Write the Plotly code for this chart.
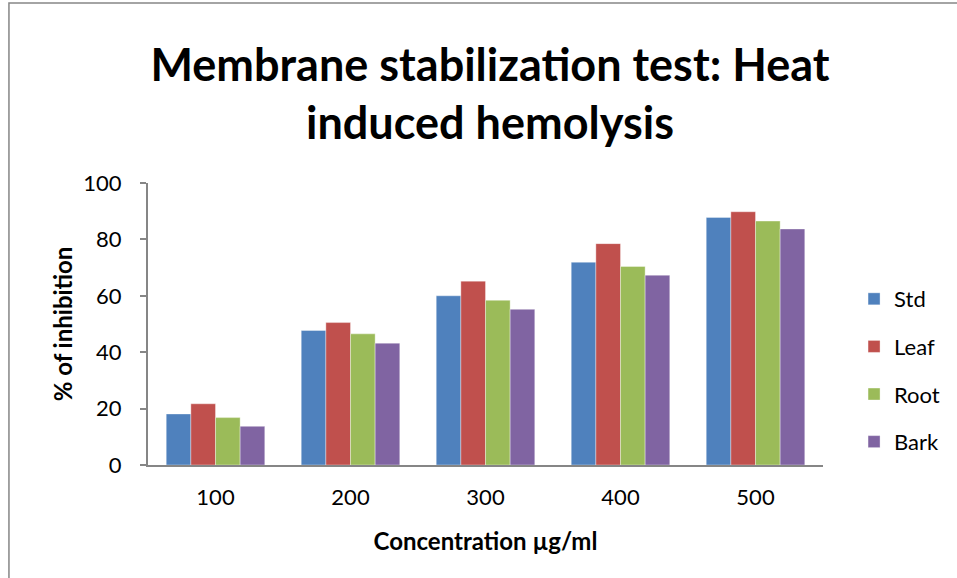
"""Grouped bar chart: membrane stabilization test."""

from plotly import graph_objects as go

concentrations = ["100", "200", "300", "400", "500"]
std = [18.1, 47.7, 60.0, 71.9, 87.8]
leaf = [21.7, 50.5, 65.2, 78.5, 89.8]
root = [16.8, 46.5, 58.4, 70.4, 86.5]
bark = [13.7, 43.2, 55.2, 67.3, 83.7]
y_ticks = [0, 20, 40, 60, 80, 100]

series = [
    ("Std", std, "#4F81BD"),
    ("Leaf", leaf, "#C0504D"),
    ("Root", root, "#9BBB59"),
    ("Bark", bark, "#8064A2"),
]

FONT = "Lato, 'Open Sans', sans-serif"

fig = go.Figure()
for name, values, color in series:
    fig.add_trace(
        go.Bar(
            x=concentrations,
            y=values,
            name=name,
            legendgroup=name,
            marker={"color": color, "line": {"width": 0.6, "color": "rgba(255,255,255,0.6)"}},
        )
    )

fig.update_layout(
    width=957,
    height=578,
    template=None,
    plot_bgcolor="white",
    paper_bgcolor="white",
    font={"family": FONT, "size": 22, "color": "black"},
    margin={"l": 148, "r": 130, "t": 183, "b": 113},
    barmode="group",
    bargap=0.27,
    bargroupgap=0,
    title={
        "text": "<b>Membrane stabilization test: Heat<br>induced hemolysis</b>",
        "x": 0.512,
        "xanchor": "center",
        "y": 0.86,
        "yanchor": "middle",
        "font": {"family": FONT, "size": 45, "color": "black"},
    },
    legend={
        "x": 1.046,
        "xanchor": "left",
        "y": 0.335,
        "yanchor": "middle",
        "font": {"size": 22},
        "tracegroupgap": 16,
        "itemwidth": 30,
    },
    showlegend=True,
)

fig.update_xaxes(
    showgrid=False,
    zeroline=False,
    showline=True,
    linecolor="#868686",
    linewidth=2,
    ticks="",
    ticklabelstandoff=12,
    title={"text": "<b>Concentration µg/ml</b>", "font": {"size": 24}, "standoff": 24},
)
fig.update_yaxes(
    range=[0, 100],
    tickvals=y_ticks,
    showgrid=False,
    zeroline=False,
    showline=True,
    linecolor="#868686",
    linewidth=2,
    ticks="outside",
    ticklen=6,
    tickcolor="#868686",
    tickwidth=2,
    ticklabelstandoff=14,
    title={"text": "<b>% of inhibition</b>", "font": {"size": 24}, "standoff": 4},
)

# outer chart frame
fig.add_shape(
    type="rect",
    xref="paper",
    yref="paper",
    x0=-0.206,
    x1=1.3,
    y0=-0.6,
    y1=1.638,
    line={"color": "#868686", "width": 1.5},
    fillcolor="rgba(0,0,0,0)",
    layer="below",
)

fig.write_html(
    "out.html",
    config={"displayModeBar": False},
    post_script="document.body.style.margin='0';",
)
